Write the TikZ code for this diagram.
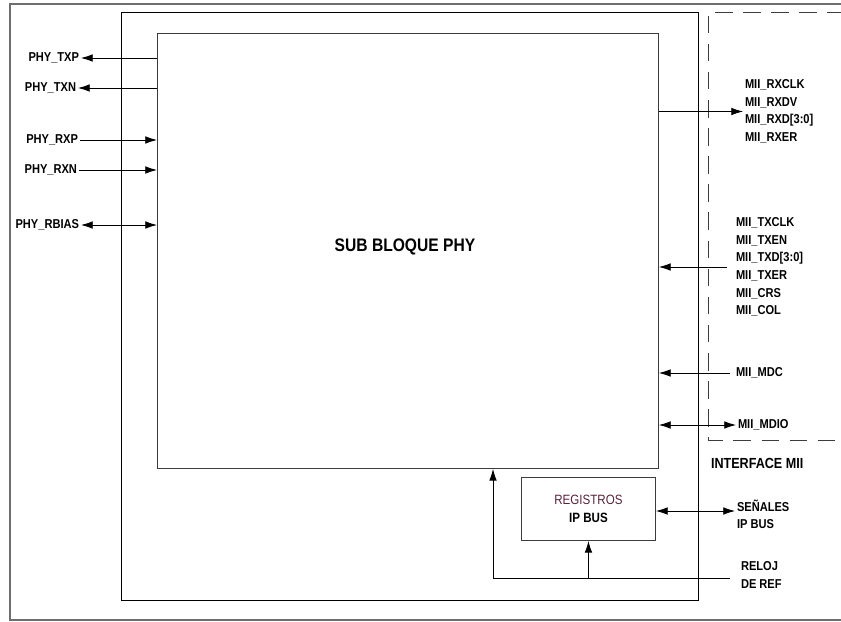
\documentclass[tikz,border=0pt]{standalone}
\usepackage{fontspec}
\setmainfont{Liberation Sans}[FakeStretch=0.86]
\usepackage{tikz}
\usetikzlibrary{arrows.meta, positioning}
\definecolor{frameGray}{RGB}{110,110,110}
\definecolor{boxGray}{RGB}{60,60,60}
\definecolor{regText}{RGB}{85,35,60}
\tikzset{
  frm/.style={draw=frameGray, line width=1.1pt},
  blkbox/.style={draw=boxGray, line width=0.8pt},
  sig/.style={font=\fontsize{11}{15}\selectfont\bfseries, inner sep=1.5pt},
  sigL/.style={sig, align=left, anchor=west},
  arrT/.style={-{Latex[length=10pt, width=6.5pt]}, line width=0.7pt},
  arrB/.style={{Latex[length=10pt, width=6.5pt]}-{Latex[length=10pt, width=6.5pt]}, line width=0.7pt},
}

\begin{document}
\begin{tikzpicture}[x=0.03cm, y=-0.03cm]
  \useasboundingbox (0,0) rectangle (841,622);

  % frames
  \draw[frm] (845,4) -- (10,4) -- (10,620) -- (845,620);
  \draw[blkbox, draw=black] (121,12) rectangle (698,600);
  \draw[draw=boxGray, line width=0.8pt, dash pattern=on 15pt off 9pt]
        (845,12) -- (708,12) -- (708,440) -- (845,440);

  % blocks
  \node[blkbox, minimum width=501*0.03cm, minimum height=435*0.03cm,
        anchor=north west, inner sep=0pt] (phy) at (157,33) {};
  \node[font=\fontsize{15.5}{18}\selectfont\bfseries] (phylbl) at (405,247) {SUB BLOQUE PHY};
  \node[blkbox, minimum width=134*0.03cm, minimum height=63*0.03cm,
        anchor=north west, inner sep=0pt] (regs) at (521,477) {};
  \node[align=center, font=\fontsize{11.5}{15.5}\selectfont] (regslbl) at (regs.center)
       {\textcolor{regText}{REGISTROS}\\\textbf{IP BUS}};

  % PHY side
  \node[sig, anchor=east] (txp)   at (81,58)  {PHY\_TXP};
  \node[sig, anchor=east] (txn)   at (78,88)  {PHY\_TXN};
  \node[sig, anchor=east] (rxp)   at (80,140) {PHY\_RXP};
  \node[sig, anchor=east] (rxn)   at (79,170) {PHY\_RXN};
  \node[sig, anchor=east] (rbias) at (81,225) {PHY\_RBIAS};

  \draw[arrT] (phy.west |- txp) -- (txp.east);
  \draw[arrT] (phy.west |- txn) -- (txn.east);
  \draw[arrT] (rxp.east) -- (phy.west |- rxp);
  \draw[arrT] (rxn.east) -- (phy.west |- rxn);
  \draw[arrB] (rbias.east) -- (phy.west |- rbias);

  % MII side
  \node[sigL] (rx) at (743,111.5)
       {MII\_RXCLK\\MII\_RXDV\\MII\_RXD[3:0]\\MII\_RXER};
  \node[sigL] (tx) at (734,267)
       {MII\_TXCLK\\MII\_TXEN\\MII\_TXD[3:0]\\MII\_TXER\\MII\_CRS\\MII\_COL};
  \node[sigL] (mdc)  at (734,373) {MII\_MDC};
  \node[sigL] (mdio) at (736,425) {MII\_MDIO};
  \node[sigL, font=\fontsize{12.5}{15}\selectfont\bfseries] (mii) at (709,463) {INTERFACE MII};

  \draw[arrT] (phy.east |- rx.west) -- (rx.west);
  \draw[arrT] ([xshift=-6pt]tx.west) -- (phy.east |- tx.west);
  \draw[arrT] ([xshift=-3pt]mdc.west) -- (phy.east |- mdc.west);
  \draw[arrB] (phy.east |- mdio.west) -- (mdio.west);

  % IP bus and clock
  \node[sigL] (ipbus) at (735,514.5) {SEÑALES\\IP BUS};
  \node[sigL] (reloj) at (739,575) {RELOJ\\DE REF};
  \coordinate (clk) at (730,578);

  \draw[arrB] (regs.east |- 0,511) -- (ipbus.west |- 0,511);
  \draw[arrT] (clk) -- (493,578) -- (phy.south -| 493,0);
  \draw[arrT] (regs.south |- clk) -- (regs.south);
\end{tikzpicture}
\end{document}
